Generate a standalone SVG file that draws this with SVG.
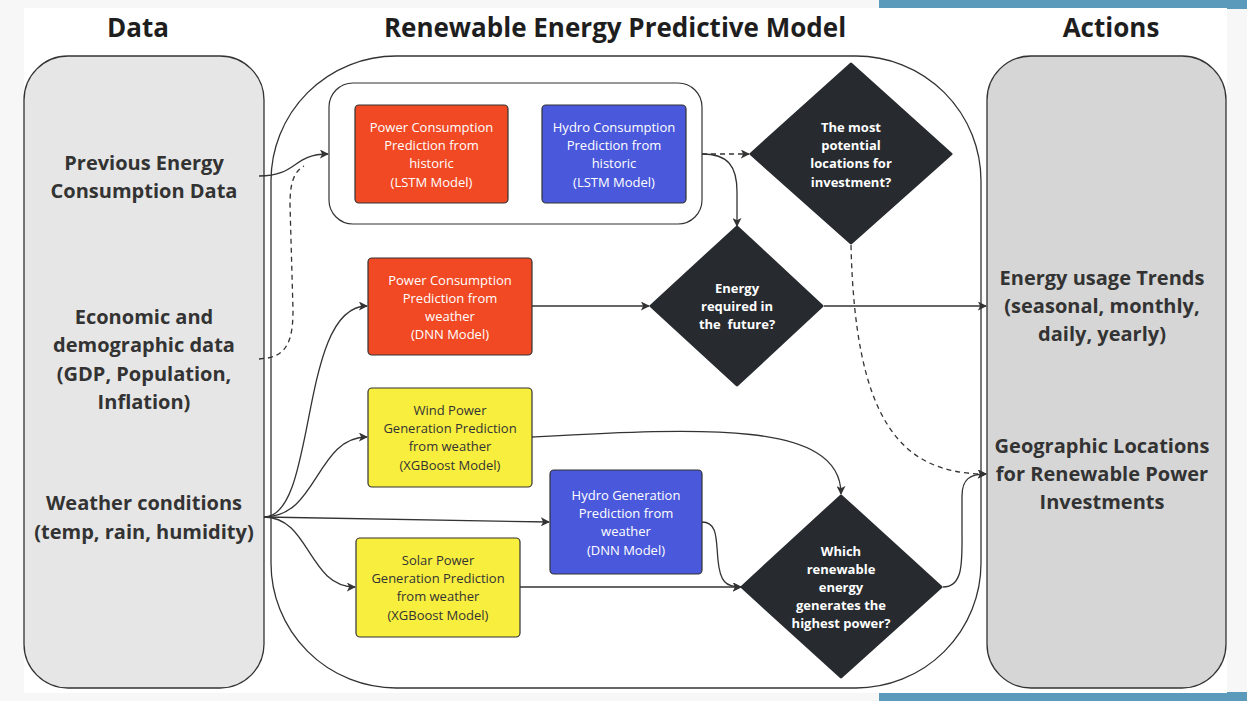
<svg xmlns="http://www.w3.org/2000/svg" width="1247" height="701" viewBox="0 0 1247 701">
<defs>
<marker id="arr" viewBox="0 0 10 10" refX="9" refY="5" markerWidth="9" markerHeight="9" markerUnits="userSpaceOnUse" orient="auto">
<path d="M0,0 L10,5 L0,10 L2.5,5 Z" fill="#333"/>
</marker>
<style>
.hdr{font-family:"Open Sans","Noto Sans",sans-serif;font-weight:700;font-size:26px;fill:#1e1e1e;text-anchor:middle}
.lbl{font-family:"Open Sans","Noto Sans",sans-serif;font-weight:700;font-size:20px;fill:#333;text-anchor:middle}
.bx{stroke:#333;stroke-width:1.2}
.bt{font-family:"Open Sans","Noto Sans",sans-serif;font-size:13px;text-anchor:middle}
.w{fill:#fff}
.d{fill:#333}
.dia{fill:#272b2f;stroke:#272b2f;stroke-width:3;stroke-linejoin:round}
.dt{font-family:"Open Sans","Noto Sans",sans-serif;font-weight:700;font-size:13px;fill:#fff;text-anchor:middle}
.c{fill:none;stroke:#333;stroke-width:1.3}
.ds{stroke-dasharray:5 4}
</style>
</defs>
<rect x="0" y="0" width="1247" height="701" fill="#f7f7f7"/>
<rect x="24" y="8" width="1203" height="685" fill="#ffffff"/>
<rect x="879" y="0" width="348" height="8" fill="#5b9abb"/>
<rect x="1227" y="0" width="20" height="9" fill="#5b9abb"/>
<rect x="879" y="693" width="368" height="8" fill="#5b9abb"/>
<rect x="1227" y="692" width="20" height="9" fill="#5b9abb"/>

<text class="hdr" x="138" y="37">Data</text>
<text class="hdr" x="615" y="37">Renewable Energy Predictive Model</text>
<text class="hdr" x="1111" y="37">Actions</text>

<g id="data">
<rect x="24" y="56" width="240" height="632" rx="44" fill="#e6e6e6" stroke="#333" stroke-width="1.3"/>
<text class="lbl" x="144" y="170">Previous Energy</text>
<text class="lbl" x="144" y="198">Consumption Data</text>
<text class="lbl" x="144" y="324">Economic and</text>
<text class="lbl" x="144" y="352">demographic data</text>
<text class="lbl" x="144" y="381">(GDP, Population,</text>
<text class="lbl" x="144" y="409">Inflation)</text>
<text class="lbl" x="144" y="510">Weather conditions</text>
<text class="lbl" x="144" y="539">(temp, rain, humidity)</text>
</g>

<g id="model">
<rect x="271" y="56" width="710" height="632" rx="125" fill="#ffffff" stroke="#333" stroke-width="1.3"/>
</g>

<g id="actions">
<rect x="987" y="56" width="239" height="632" rx="44" fill="#d6d6d6" stroke="#333" stroke-width="1.3"/>
<text class="lbl" x="1102" y="285">Energy usage Trends</text>
<text class="lbl" x="1102" y="313">(seasonal, monthly,</text>
<text class="lbl" x="1102" y="341">daily, yearly)</text>
<text class="lbl" x="1102" y="453">Geographic Locations</text>
<text class="lbl" x="1102" y="481">for Renewable Power</text>
<text class="lbl" x="1102" y="509">Investments</text>
</g>

<g id="historic-group">
<rect x="329" y="83" width="373" height="141" rx="24" fill="#ffffff" stroke="#333" stroke-width="1.2"/>
</g>

<g id="power-lstm">
<rect class="bx" x="355" y="105" width="153" height="98" rx="4" fill="#f04923"/>
<text class="bt w" x="431.5" y="132">Power Consumption</text>
<text class="bt w" x="431.5" y="150">Prediction from</text>
<text class="bt w" x="431.5" y="168">historic</text>
<text class="bt w" x="431.5" y="187">(LSTM Model)</text>
</g>

<g id="hydro-lstm">
<rect class="bx" x="542" y="105" width="144" height="98" rx="4" fill="#4a59dc"/>
<text class="bt w" x="614" y="132">Hydro Consumption</text>
<text class="bt w" x="614" y="150">Prediction from</text>
<text class="bt w" x="614" y="168">historic</text>
<text class="bt w" x="614" y="187">(LSTM Model)</text>
</g>

<g id="power-dnn">
<rect class="bx" x="368" y="258" width="164" height="97" rx="4" fill="#f04923"/>
<text class="bt w" x="450" y="285">Power Consumption</text>
<text class="bt w" x="450" y="303">Prediction from</text>
<text class="bt w" x="450" y="321">weather</text>
<text class="bt w" x="450" y="339">(DNN Model)</text>
</g>

<g id="wind">
<rect class="bx" x="368" y="388" width="164" height="99" rx="4" fill="#f8ee3e"/>
<text class="bt d" x="450" y="415">Wind Power</text>
<text class="bt d" x="450" y="433">Generation Prediction</text>
<text class="bt d" x="450" y="451">from weather</text>
<text class="bt d" x="450" y="470">(XGBoost Model)</text>
</g>

<g id="hydro-gen">
<rect class="bx" x="550" y="470" width="152" height="104" rx="4" fill="#4a59dc"/>
<text class="bt w" x="626" y="500">Hydro Generation</text>
<text class="bt w" x="626" y="518">Prediction from</text>
<text class="bt w" x="626" y="536">weather</text>
<text class="bt w" x="626" y="555">(DNN Model)</text>
</g>

<g id="solar">
<rect class="bx" x="356" y="538" width="164" height="99" rx="4" fill="#f8ee3e"/>
<text class="bt d" x="438" y="565">Solar Power</text>
<text class="bt d" x="438" y="583">Generation Prediction</text>
<text class="bt d" x="438" y="601">from weather</text>
<text class="bt d" x="438" y="620">(XGBoost Model)</text>
</g>

<g id="q-locations">
<path class="dia" d="M851,64 L951,154 L851,243 L751,154 Z"/>
<text class="dt" x="851" y="132">The most</text>
<text class="dt" x="851" y="150">potential</text>
<text class="dt" x="851" y="168">locations for</text>
<text class="dt" x="851" y="187">investment?</text>
</g>

<g id="q-energy">
<path class="dia" d="M737,227 L822,306 L737,385 L651,306 Z"/>
<text class="dt" x="737" y="293">Energy</text>
<text class="dt" x="737" y="311">required in</text>
<text class="dt" x="737" y="329" xml:space="preserve">the  future?</text>
</g>

<g id="q-which">
<path class="dia" d="M841,496 L941,587 L841,677 L742,587 Z"/>
<text class="dt" x="841" y="556">Which</text>
<text class="dt" x="841" y="574">renewable</text>
<text class="dt" x="841" y="592">energy</text>
<text class="dt" x="841" y="610">generates the</text>
<text class="dt" x="841" y="628">highest power?</text>
</g>

<g id="connectors">
<path class="c" d="M259,176 C298,176 292,154 328,154" marker-end="url(#arr)"/>
<path class="c ds" d="M259,359 L268,358 C288,354 293,338 293,310 L290,205 C290,182 294,172 304,166"/>
<path class="c" d="M264,517 C318,517 298,306 367,306" marker-end="url(#arr)"/>
<path class="c" d="M264,517 C318,517 316,437 367,437" marker-end="url(#arr)"/>
<path class="c" d="M264,517 L549,522" marker-end="url(#arr)"/>
<path class="c" d="M264,517 C310,517 308,587 355,587" marker-end="url(#arr)"/>
<path class="c ds" d="M702,154 L749,154" marker-end="url(#arr)"/>
<path class="c" d="M702,154 C728,154 737,166 737,192 L737,226" marker-end="url(#arr)"/>
<path class="c" d="M532,306 L649,306" marker-end="url(#arr)"/>
<path class="c" d="M824,306 L986,306" marker-end="url(#arr)"/>
<path class="c ds" d="M851,245 C855,420 900,474 986,474" marker-end="url(#arr)"/>
<path class="c" d="M532,437 C700,428 841,420 841,494" marker-end="url(#arr)"/>
<path class="c" d="M702,522 C718,522 716,540 718,560 C720,582 726,587 741,587" marker-end="url(#arr)"/>
<path class="c" d="M520,587 L741,587" marker-end="url(#arr)"/>
<path class="c" d="M943,587 C964,587 962,560 962,530 L962,496 C962,479 970,474 986,474" marker-end="url(#arr)"/>
</g>
</svg>
